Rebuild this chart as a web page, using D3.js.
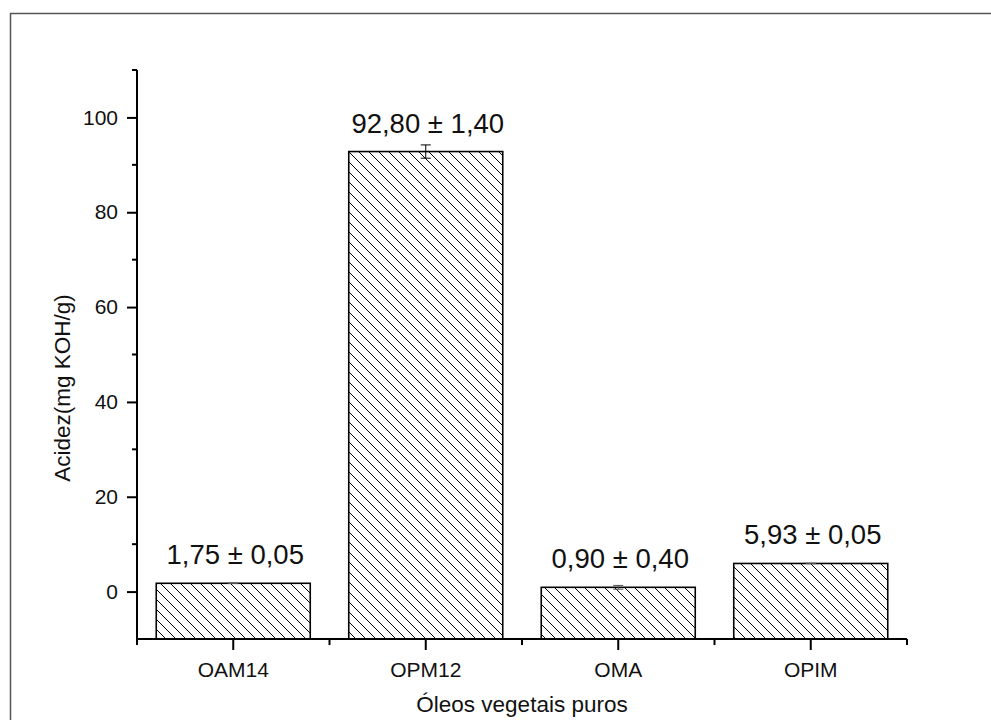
<!DOCTYPE html>
<html>
<head>
<meta charset="utf-8">
<script src="https://cdn.jsdelivr.net/npm/d3@7"></script>
<style>
  html, body { margin: 0; padding: 0; background: #fff; }
  svg { display: block; font-family: "Liberation Sans", Arial, sans-serif; }
</style>
</head>
<body>
<svg id="chart" width="991" height="720"></svg>
<script>
// Acidity of pure vegetable oils
const categories = ["OAM14", "OPM12", "OMA", "OPIM"];
const values = [1.75, 92.80, 0.90, 5.93];
const errors = [0.05, 1.40, 0.40, 0.05];
const valueLabels = ["1,75 ± 0,05", "92,80 ± 1,40", "0,90 ± 0,40", "5,93 ± 0,05"];
const yTicks = [0, 20, 40, 60, 80, 100];
const yMinorTicks = [10, 30, 50, 70, 90, 110];
const yDomain = [-10, 110];

const svg = d3.select("#chart");
const width = 991, height = 720;
const margin = { left: 137, right: 84, top: 70, bottom: 81 };
const plotW = width - margin.left - margin.right;
const plotH = height - margin.top - margin.bottom;

// Frame around the graph page
svg.append("rect")
  .attr("x", 10.5).attr("y", 13.5)
  .attr("width", 1000).attr("height", 800)
  .attr("fill", "none").attr("stroke", "#555").attr("stroke-width", 1.5);

// Diagonal hatch pattern used to fill the bars
const defs = svg.append("defs");
const pat = defs.append("pattern")
  .attr("id", "hatch")
  .attr("patternUnits", "userSpaceOnUse")
  .attr("width", 10).attr("height", 10);
pat.append("path")
  .attr("d", "M-2.5,7.5 L2.5,12.5 M0,0 L10,10 M7.5,-2.5 L12.5,2.5")
  .attr("stroke", "#000").attr("stroke-width", 1);

const g = svg.append("g").attr("transform", `translate(${margin.left},${margin.top})`);

const x = d3.scaleBand().domain(categories).range([0, plotW]).paddingInner(0.2).paddingOuter(0.1);
const y = d3.scaleLinear().domain(yDomain).range([plotH, 0]);

// Bars
const bars = g.selectAll(".bar").data(categories.map((c, i) => ({ c, v: values[i], e: errors[i], label: valueLabels[i] })))
  .enter().append("g");

bars.append("rect")
  .attr("x", d => x(d.c))
  .attr("y", d => y(d.v))
  .attr("width", x.bandwidth())
  .attr("height", d => y(yDomain[0]) - y(d.v))
  .attr("fill", "url(#hatch)")
  .attr("stroke", "#000").attr("stroke-width", 1.6);

// Error bars
const capW = 10;
bars.each(function (d) {
  const cx = x(d.c) + x.bandwidth() / 2;
  const sel = d3.select(this);
  const col = d.e < 1 ? "#555" : "#000";
  sel.append("line").attr("x1", cx).attr("x2", cx).attr("y1", y(d.v + d.e)).attr("y2", y(d.v - d.e))
    .attr("stroke", col).attr("stroke-width", 1);
  [d.v + d.e, d.v - d.e].forEach(val => {
    sel.append("line").attr("x1", cx - capW / 2).attr("x2", cx + capW / 2)
      .attr("y1", y(val)).attr("y2", y(val)).attr("stroke", col).attr("stroke-width", 1);
  });
});

// Value labels
bars.append("text")
  .attr("x", d => x(d.c) + x.bandwidth() / 2 + 2)
  .attr("y", d => y(d.v) - 19)
  .attr("text-anchor", "middle")
  .attr("font-size", 27.5)
  .attr("fill", "#111")
  .text(d => d.label);

// Y axis
const yAxis = g.append("g")
  .call(d3.axisLeft(y).tickValues(yTicks).tickSize(10).tickPadding(9).tickFormat(d3.format("d")));
yAxis.select(".domain").attr("stroke-width", 2).attr("d", `M0,${plotH}V0`);
yAxis.selectAll(".tick line").attr("stroke-width", 2);
yAxis.selectAll(".tick text").attr("font-size", 21).attr("fill", "#111")
  .attr("font-family", "'Liberation Sans', Arial, sans-serif");
g.append("g").selectAll("line").data(yMinorTicks).enter().append("line")
  .attr("x1", -5).attr("x2", 0).attr("y1", d => y(d)).attr("y2", d => y(d))
  .attr("stroke", "#000").attr("stroke-width", 2);

// X axis
const xAxis = g.append("g").attr("transform", `translate(0,${plotH})`)
  .call(d3.axisBottom(x).tickSize(11).tickPadding(12));
xAxis.select(".domain").attr("stroke-width", 2).attr("d", `M0,0H${plotW}`);
xAxis.selectAll(".tick line").attr("stroke-width", 2);
xAxis.selectAll(".tick text").attr("font-size", 21).attr("fill", "#111")
  .attr("font-family", "'Liberation Sans', Arial, sans-serif");
const xMinor = d3.range(categories.length + 1).map(i => i * (plotW / categories.length));
g.append("g").selectAll("line").data(xMinor).enter().append("line")
  .attr("x1", d => d).attr("x2", d => d).attr("y1", plotH).attr("y2", plotH + 6)
  .attr("stroke", "#000").attr("stroke-width", 2);

// Axis titles
svg.append("text")
  .attr("transform", "translate(70,388) rotate(-90)")
  .attr("text-anchor", "middle").attr("font-size", 22.5).attr("fill", "#111")
  .text("Acidez(mg KOH/g)");
svg.append("text")
  .attr("x", margin.left + plotW / 2).attr("y", 712)
  .attr("text-anchor", "middle").attr("font-size", 22.5).attr("fill", "#111")
  .text("Óleos vegetais puros");
</script>
</body>
</html>
